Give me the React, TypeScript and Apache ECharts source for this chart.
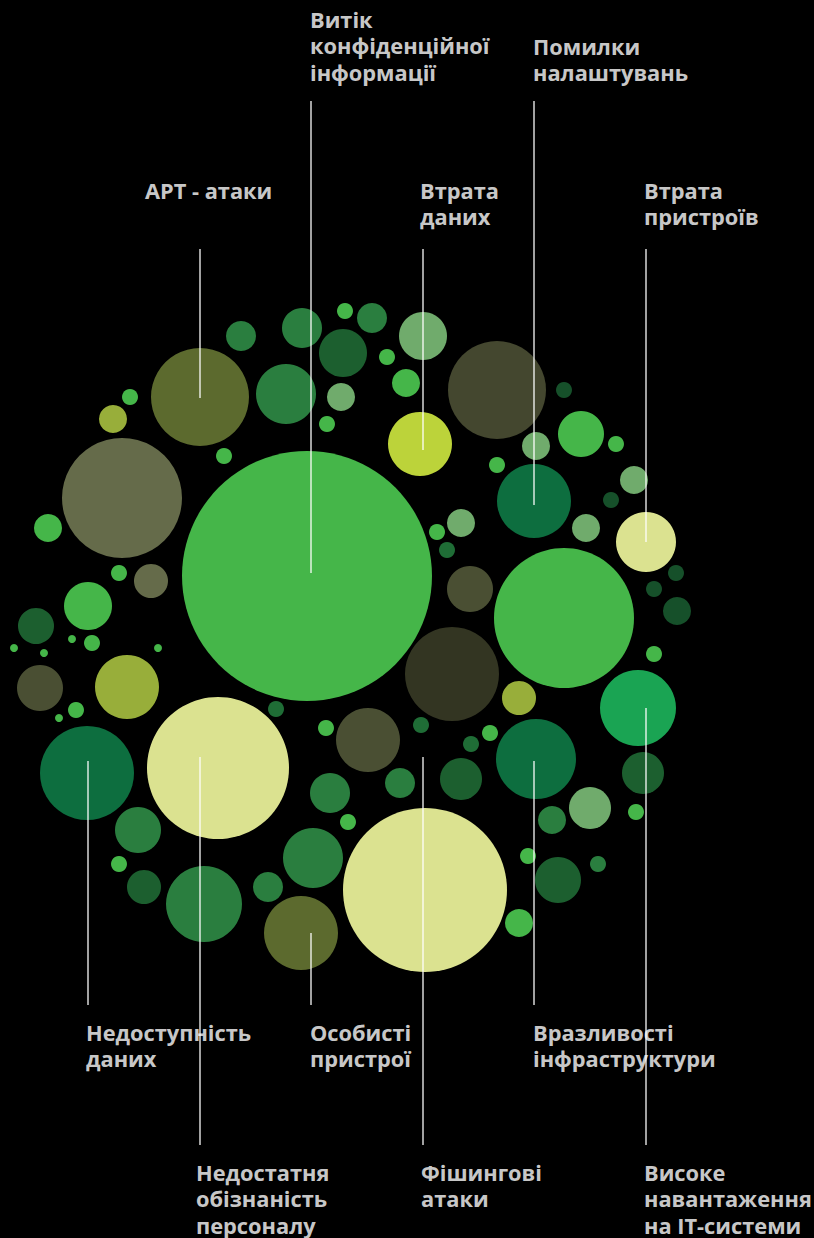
import React, { useEffect, useRef } from "react";
import * as echarts from "echarts";

// Bubble palette (tone index -> colour)
const palette = [
  "#45B649", "#DBE290", "#656B4A", "#333522", "#5C6A2E", "#44472F", "#0D6E3F", "#1AA453",
  "#BCD33A", "#2A7E3F", "#98AE3A", "#70AB6C", "#1C5F2F", "#16502A", "#4A4F33", "#1F6D36",
];

// Bubbles: centre x, centre y, radius, tone
const bubbleX = [307, 425, 218, 122, 564, 452, 200, 497, 87, 536, 534, 638, 420, 646, 301, 368, 204, 313, 127, 40, 88, 36, 151, 119, 48, 92, 72, 14, 44, 158, 76, 59, 276, 138, 119, 144, 268, 330, 348, 400, 461, 326, 421, 471, 490, 519, 470, 437, 447, 461, 497, 536, 581, 564, 616, 634, 611, 586, 676, 654, 677, 654, 643, 636, 590, 552, 558, 598, 528, 519, 241, 286, 302, 345, 372, 343, 341, 327, 387, 406, 423, 113, 130, 224];
const bubbleY = [576, 890, 768, 498, 618, 674, 397, 390, 773, 759, 501, 708, 444, 542, 933, 740, 904, 858, 687, 688, 606, 626, 581, 573, 528, 643, 639, 648, 653, 648, 710, 718, 709, 830, 864, 887, 887, 793, 822, 783, 779, 728, 725, 744, 733, 698, 589, 532, 550, 523, 465, 446, 434, 390, 444, 480, 500, 528, 573, 589, 611, 654, 773, 812, 808, 820, 880, 864, 856, 923, 336, 394, 328, 311, 318, 353, 397, 424, 357, 383, 336, 419, 397, 456];
const bubbleR = [125, 82, 71, 60, 70, 47, 49, 49, 47, 40, 37, 38, 32, 30, 37, 32, 38, 30, 32, 23, 24, 18, 17, 8, 14, 8, 4, 4, 4, 4, 8, 4, 8, 23, 8, 17, 15, 20, 8, 15, 21, 8, 8, 8, 8, 17, 23, 8, 8, 14, 8, 14, 23, 8, 8, 14, 8, 14, 8, 8, 14, 8, 21, 8, 21, 14, 23, 8, 8, 14, 15, 30, 20, 8, 15, 24, 14, 8, 8, 14, 24, 14, 8, 8];
const bubbleTone = [0, 1, 1, 2, 0, 3, 4, 5, 6, 6, 6, 7, 8, 1, 4, 14, 9, 9, 10, 14, 0, 12, 2, 0, 0, 0, 0, 0, 0, 0, 0, 0, 15, 9, 0, 12, 9, 9, 0, 9, 12, 0, 15, 15, 0, 10, 14, 0, 15, 11, 0, 11, 0, 13, 0, 11, 13, 11, 13, 13, 13, 0, 12, 0, 11, 9, 12, 9, 0, 0, 9, 9, 9, 0, 9, 12, 11, 0, 0, 0, 11, 10, 0, 0];

// Category labels with their leader lines
const labelNames = [
  "Витік\nконфіденційної\nінформації",
  "Помилки\nналаштувань",
  "APT - атаки",
  "Втрата\nданих",
  "Втрата\nпристроїв",
  "Недоступність\nданих",
  "Особисті\nпристрої",
  "Вразливості\nінфраструктури",
  "Недостатня\nобізнаність\nперсоналу",
  "Фішингові\nатаки",
  "Високе\nнавантаження\nна IT-системи",
];
const labelX = [310, 533, 145, 420, 644, 86, 310, 533, 196, 421, 644];
const labelY = [6, 33, 177, 177, 177, 1019, 1019, 1019, 1159, 1159, 1159];
const lineX = [311, 534, 200, 423, 646, 88, 311, 534, 200, 423, 646];
const lineY1 = [101, 101, 249, 249, 249, 761, 933, 761, 757, 757, 708];
const lineY2 = [573, 505, 398, 450, 542, 1005, 1005, 1005, 1145, 1145, 1145];

export default function App() {
  const ref = useRef<HTMLDivElement>(null);
  useEffect(() => {
    document.body.style.margin = "0";
    document.body.style.background = "#000";
    const chart = echarts.init(ref.current!, null, { renderer: "svg" });
    const bubbles = bubbleX.map((x, i) => ({
      value: [x, bubbleY[i], bubbleR[i]],
      itemStyle: { color: palette[bubbleTone[i]] },
    }));
    const lineSeries = lineX.map((x, i) => ({
      type: "line",
      data: [[x, lineY1[i]], [x, lineY2[i]]],
      symbol: "none",
      silent: true,
      z: 5,
      lineStyle: { color: "rgba(255,255,255,0.85)", width: 1.5 },
    }));
    chart.setOption({
      animation: false,
      backgroundColor: "#000",
      grid: { left: 0, right: 0, top: 0, bottom: 0 },
      xAxis: { type: "value", min: 0, max: 814, show: false },
      yAxis: { type: "value", min: 0, max: 1238, inverse: true, show: false },
      series: [
        {
          type: "scatter",
          data: bubbles,
          symbolSize: (v: number[]) => v[2] * 2,
          itemStyle: { opacity: 1 },
          z: 2,
        },
        ...lineSeries,
        {
          type: "scatter",
          data: labelX.map((x, i) => ({ value: [x, labelY[i]], name: labelNames[i] })),
          symbolSize: 0.01,
          itemStyle: { color: "rgba(0,0,0,0)" },
          z: 10,
          label: {
            show: true,
            formatter: "{b}",
            position: [0, 0],
            align: "left",
            verticalAlign: "top",
            color: "#fff",
            fontFamily: "Open Sans",
            fontWeight: "bold",
            fontSize: 21.8,
            lineHeight: 26.5,
          },
        },
      ],
    });
    return () => chart.dispose();
  }, []);
  return <div ref={ref} style={{ width: 814, height: 1238 }} />;
}
